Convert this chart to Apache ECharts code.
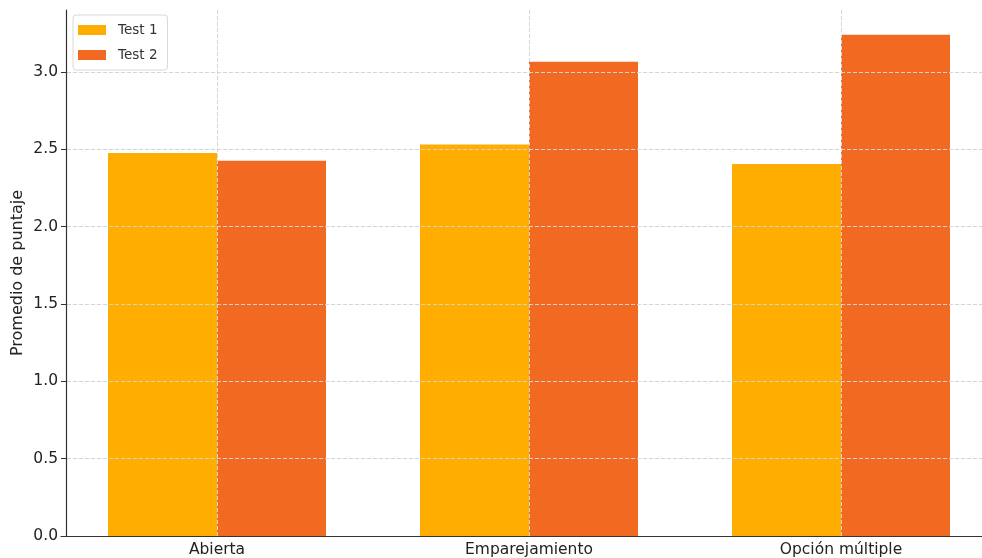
<!DOCTYPE html>
<html>
<head>
<meta charset="utf-8">
<script src="https://cdn.jsdelivr.net/npm/echarts@6/dist/echarts.min.js"></script>
<style>html,body{margin:0;padding:0;background:#fff;overflow:hidden;width:982px;height:558px}#c{width:997px;height:558px}</style>
</head>
<body>
<div id="c"></div>
<script>
const categories = ['Abierta', 'Emparejamiento', 'Opción múltiple'];
const test1 = [2.475, 2.53, 2.405];
const test2 = [2.425, 3.065, 3.24];
const yTicks = [0, 0.5, 1.0, 1.5, 2.0, 2.5, 3.0];
const seriesNames = ['Test 1', 'Test 2'];

const FONT = 'DejaVu Sans';
const grid = { color: '#d4d4d4', width: 1, type: [4, 2] };
const chart = echarts.init(document.getElementById('c'), null, { renderer: 'canvas' });
chart.setOption({
  animation: false,
  textStyle: { fontFamily: FONT },
  grid: { left: 61, right: 0, top: 10, bottom: 22, containLabel: false },
  legend: {
    orient: 'vertical', left: 73, top: 15,
    data: seriesNames, icon: 'rect',
    itemWidth: 28, itemHeight: 10, itemGap: 11,
    padding: [8, 10, 8, 5],
    borderColor: '#d8d8d8', borderWidth: 1, borderRadius: 3,
    backgroundColor: '#fff',
    textStyle: { fontFamily: FONT, fontSize: 13.5, color: '#333', padding: [0, 0, 0, 7] },
    z: 10
  },
  xAxis: {
    type: 'category', data: categories, z: 6,
    axisLine: { lineStyle: { color: '#333', width: 1.2 } },
    axisTick: { alignWithLabel: true, inside: true, length: 4, lineStyle: { color: '#333' } },
    axisLabel: { fontFamily: FONT, fontSize: 15.5, color: '#222', margin: 6 },
    splitLine: { show: false }
  },
  yAxis: {
    type: 'value', min: 0, max: 3.4, offset: -5, z: 5,
    name: 'Promedio de puntaje', nameLocation: 'middle', nameGap: 40, nameMoveOverlap: false,
    nameTextStyle: { fontFamily: FONT, fontSize: 16, color: '#222' },
    axisLine: { show: true, lineStyle: { color: '#333', width: 1.2 } },
    axisTick: { show: true, length: 5, customValues: yTicks, lineStyle: { color: '#333' } },
    axisLabel: { fontFamily: FONT, fontSize: 15.5, color: '#222', margin: 8, customValues: yTicks,
      formatter: v => v.toFixed(1) },
    splitLine: { show: true, lineStyle: grid }
  },
  series: [
    { name: seriesNames[0], type: 'bar', data: test1, barWidth: 109, barGap: '0%',
      itemStyle: { color: '#FFAD00' } },
    { name: seriesNames[1], type: 'bar', data: test2, barWidth: 109, barGap: '0%',
      itemStyle: { color: '#F26A21' } },
    { name: 'grid', type: 'line', data: categories.map(() => null), silent: true,
      showSymbol: false, z: 5,
      markLine: { silent: true, symbol: 'none', label: { show: false },
        lineStyle: grid, z: 5,
        data: categories.map(c => ({ xAxis: c })) } }
  ]
});
</script>
</body>
</html>
